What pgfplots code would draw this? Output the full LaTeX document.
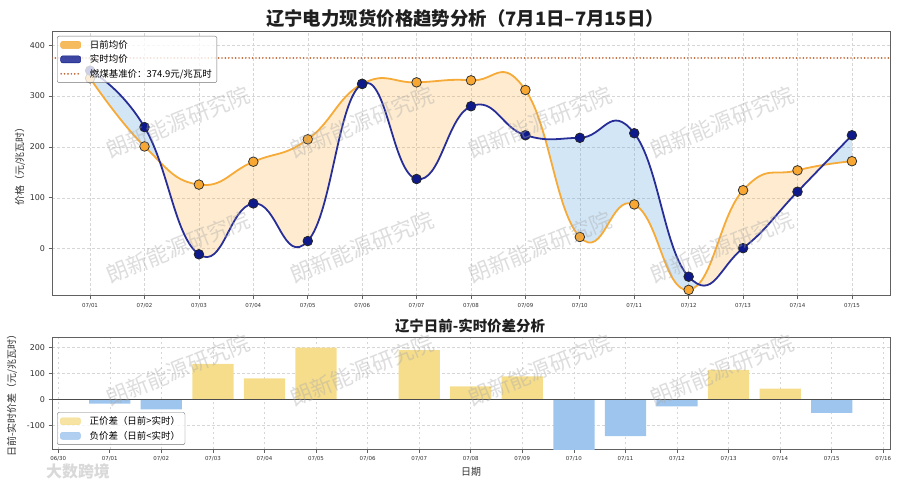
\documentclass[border=0pt]{standalone}
\usepackage{fontspec}
\setmainfont{DejaVu Sans}
\newfontfamily\cjk{Noto Sans CJK SC}
\usepackage{pgfplots}
\usepackage{pgfplotstable}
\pgfplotsset{compat=1.18}
\usepgfplotslibrary{fillbetween}

\definecolor{daorange}{RGB}{246,170,55}
\definecolor{damark}{RGB}{248,168,50}
\definecolor{rtblue}{RGB}{40,46,152}
\definecolor{rtmark}{RGB}{14,26,140}
\definecolor{fillorange}{RGB}{255,168,40}
\definecolor{fillblue}{RGB}{95,165,222}
\definecolor{refline}{RGB}{192,105,55}
\definecolor{posbar}{RGB}{246,221,140}
\definecolor{negbar}{RGB}{158,197,238}
\definecolor{wm}{RGB}{170,170,170}

% day, day-ahead average, real-time average
\pgfplotstableread{
day da  rt
1   335 350
2   201 239
3   126 -11
4   171 89
5   215 15
6   324 324
7   327 137
8   331 280
9   312 223
10  23  218
11  87  227
12  -81 -55
13  115 1
14  154 112
15  172 223
}\prices

\pgfplotsset{
  basestyle/.style={
    scale only axis, anchor=south west,
    axis line style={black!62, line width=1bp},
    tick style={black!62, line width=0.7bp},
    tick align=outside, major tick length=3.5bp,
    xtick pos=bottom, ytick pos=left,
    grid=major,
    major grid style={black!16, dash pattern=on 2.5bp off 2.5bp, line width=0.5bp},
    ticklabel style={text=black!80},
    x tick label style={font=\fontsize{5.5}{6}\selectfont},
    y tick label style={font=\fontsize{8}{8}\selectfont},
    /pgf/number format/assume math mode=true,
    legend cell align=left,
  }
}

\begin{document}
\begin{tikzpicture}
\path (0,0) rectangle (900bp,489bp);

% ---------------- top chart ----------------
\begin{axis}[basestyle,
  at={(52bp,193bp)}, width=838bp, height=264bp,
  xmin=0.3, xmax=15.7, ymin=-93, ymax=426,
  xtick={1,...,15},
  xticklabels={07/01,07/02,07/03,07/04,07/05,07/06,07/07,07/08,07/09,07/10,07/11,07/12,07/13,07/14,07/15},
  ytick={0,100,200,300,400},
  legend style={at={(0.006,0.985)}, anchor=north west,
    font=\cjk\fontsize{9.5}{10}\selectfont, draw=black!55, rounded corners=2bp,
    fill=white, fill opacity=0.8, text opacity=1, row sep=1bp,
    inner xsep=3bp, inner ysep=2bp},
]
\addplot[draw=none, smooth, tension=0.8, name path=da, forget plot] table[x=day,y=da]{\prices};
\addplot[draw=none, smooth, tension=0.8, name path=rt, forget plot] table[x=day,y=rt]{\prices};

\addplot[fill=fillblue, fill opacity=0.28, draw=none, forget plot] fill between[of=da and rt, soft clip={domain=0.5:2.22}];
\addplot[fill=fillorange, fill opacity=0.22, draw=none, forget plot] fill between[of=da and rt, soft clip={domain=2.22:9.31}];
\addplot[fill=fillblue, fill opacity=0.28, draw=none, forget plot] fill between[of=da and rt, soft clip={domain=9.31:12.19}];
\addplot[fill=fillorange, fill opacity=0.22, draw=none, forget plot] fill between[of=da and rt, soft clip={domain=12.19:14.45}];
\addplot[fill=fillblue, fill opacity=0.28, draw=none, forget plot] fill between[of=da and rt, soft clip={domain=14.45:15.5}];

\addplot[refline, line width=1.9bp, line cap=round, dash pattern=on 0bp off 3.4bp, forget plot] coordinates {(0.3,374.9) (15.7,374.9)};

\addplot[daorange, line width=1.8bp, smooth, tension=0.8, mark=*, mark size=4.8bp,
  mark options={fill=damark, draw=black!80, line width=0.8bp}, forget plot] table[x=day,y=da]{\prices};
\addplot[rtblue, line width=1.8bp, smooth, tension=0.8, mark=*, mark size=4.8bp,
  mark options={fill=rtmark, draw=black!85, line width=0.8bp}, forget plot] table[x=day,y=rt]{\prices};

\addlegendimage{legend image code/.code={\fill[daorange] (0bp,-3.5bp) rectangle (20bp,3.5bp); \path (27bp,0bp);}}
\addlegendentry{日前均价}
\addlegendimage{legend image code/.code={\fill[rtmark] (0bp,-3.5bp) rectangle (20bp,3.5bp); \path (27bp,0bp);}}
\addlegendentry{实时均价}
\addlegendimage{legend image code/.code={\draw[refline, line width=1.9bp, line cap=round, dash pattern=on 0bp off 3.4bp] (0.5bp,0bp) -- (20bp,0bp); \path (27bp,0bp);}}
\addlegendentry{燃煤基准价：374.9元/兆瓦时}
\end{axis}

% ---------------- bottom chart ----------------
\begin{axis}[basestyle,
  at={(52bp,39.7bp)}, width=838bp, height=111.6bp,
  xmin=-0.12, xmax=16.13, ymin=-191, ymax=238,
  xtick={0,...,16},
  xticklabels={06/30,07/01,07/02,07/03,07/04,07/05,07/06,07/07,07/08,07/09,07/10,07/11,07/12,07/13,07/14,07/15,07/16},
  ytick={-100,0,100,200},
  legend style={at={(0.006,0.04)}, anchor=south west,
    font=\cjk\fontsize{9.5}{10}\selectfont, draw=black!55, rounded corners=2bp,
    fill=white, fill opacity=0.8, text opacity=1, row sep=1bp,
    inner xsep=3bp, inner ysep=2bp},
]
\addplot[ybar, bar width=0.8, bar shift=0pt, fill=posbar, draw=none, forget plot]
  coordinates {(3,137) (4,82) (5,200) (7,190) (8,51) (9,89) (13,114) (14,42)};
\addplot[ybar, bar width=0.8, bar shift=0pt, fill=negbar, draw=none, forget plot]
  coordinates {(1,-15) (2,-38) (10,-195) (11,-140) (12,-26) (15,-51)};
\addplot[black!70, line width=1bp, forget plot] coordinates {(-0.12,0) (16.13,0)};

\addlegendimage{legend image code/.code={\fill[posbar] (0bp,-3.5bp) rectangle (20bp,3.5bp); \path (27bp,0bp);}}
\addlegendentry{正价差（日前>实时）}
\addlegendimage{legend image code/.code={\fill[negbar] (0bp,-3.5bp) rectangle (20bp,3.5bp); \path (27bp,0bp);}}
\addlegendentry{负价差（日前<实时）}
\end{axis}

% ---------------- titles and labels ----------------
\node[font=\cjk\bfseries\fontsize{18.5}{18.5}\selectfont, text=black!88] at (465bp,470bp)
  {辽宁电力现货价格趋势分析（7月1日–7月15日）};
\node[font=\cjk\bfseries\fontsize{14.5}{14.5}\selectfont, text=black!88] at (470bp,163bp)
  {辽宁日前-实时价差分析};
\node[font=\cjk\fontsize{10}{10}\selectfont, text=black!80, rotate=90] at (20bp,325bp)
  {价格（元/兆瓦时）};
\node[font=\cjk\fontsize{10}{10}\selectfont, text=black!80, rotate=90] at (12bp,96bp)
  {日前-实时价差（元/兆瓦时）};
\node[font=\cjk\fontsize{10}{10}\selectfont, text=black!80] at (471bp,17bp) {日期};

% ---------------- watermarks ----------------
\foreach \x in {178,362,540,722}{
  \foreach \y in {367,242,119}{
    \node[font=\cjk\fontsize{22}{22}\selectfont, text=wm, text opacity=0.4, rotate=22]
      at (\x bp,\y bp) {朗新能源研究院};
  }
}
\node[font=\cjk\bfseries\fontsize{16}{16}\selectfont, text=black!15] at (78bp,18bp) {大数跨境};
\end{tikzpicture}
\end{document}
